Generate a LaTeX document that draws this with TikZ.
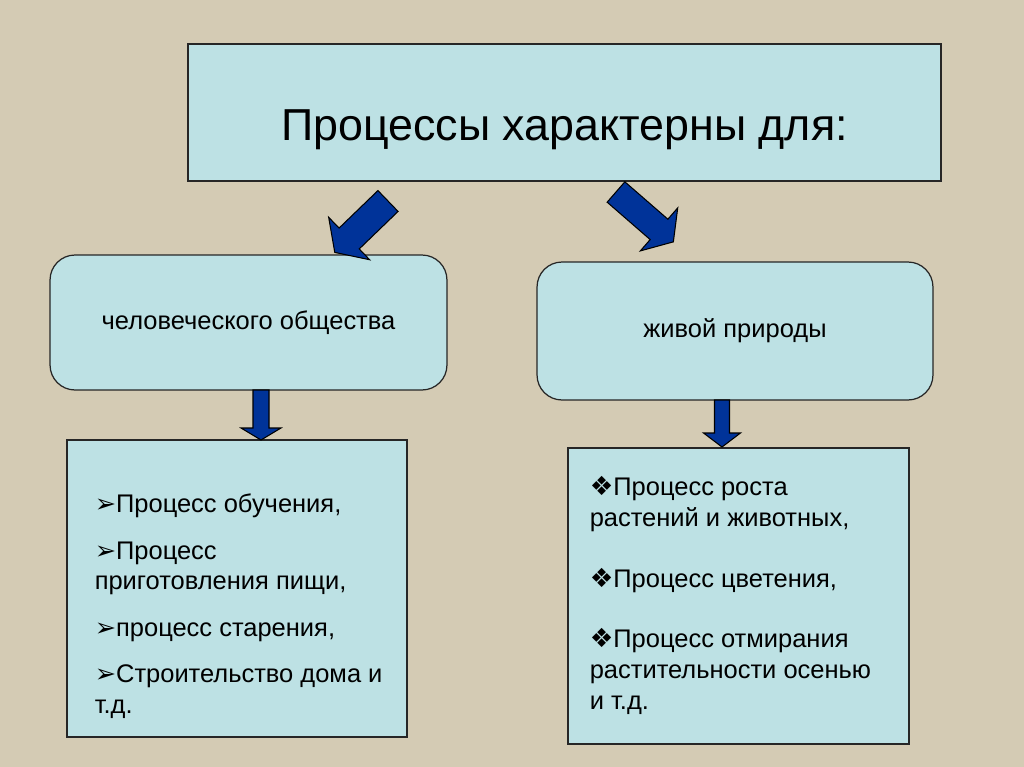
\documentclass[tikz,border=0pt]{standalone}
\usepackage{fontspec}
\setmainfont{Liberation Sans}
\newfontfamily\dingfont{DejaVu Sans}
\usetikzlibrary{positioning,calc}
\definecolor{paper}{RGB}{212,203,180}
\definecolor{boxfill}{RGB}{189,225,228}
\definecolor{arrowblue}{RGB}{0,51,153}
\newcommand{\arrbullet}{{\dingfont\fontsize{14.5}{17.5}\selectfont ➢}}
\newcommand{\diabullet}{{\dingfont\fontsize{15}{17.5}\selectfont ❖}}

\begin{document}
\begin{tikzpicture}[x=0.02cm, y=-0.02cm,
  every node/.style={font=\fontsize{14.5}{17.5}\selectfont},
  box/.style={draw=black!85, line width=0.7pt, fill=boxfill, inner sep=0pt},
  roundbox/.style={box, rounded corners=0.5cm},
  blockarrow/.style={draw=black, line width=0.6pt, fill=arrowblue},
  items/.style={anchor=north west, align=left, inner sep=0pt}]

\fill[paper] (0,0) rectangle (1024,767);

\node[box, minimum width=15.06cm, minimum height=2.74cm] (title) at (564.5,112.5) {};
\node[font=\fontsize{25.5}{30}\selectfont] (title-text) at ($(title)+(0,17)$) {Процессы характерны для:};

\node[roundbox, minimum width=7.94cm, minimum height=2.7cm] (society) at (248.5,322.5) {человеческого общества};
\node[roundbox, minimum width=7.92cm, minimum height=2.76cm] (nature) at (735,331) {живой природы};

\node[box, minimum width=6.8cm, minimum height=5.94cm] (society-list) at (237,588.5) {};
\node[box, minimum width=6.82cm, minimum height=5.92cm] (nature-list) at (738.5,596) {};

\node[items] (society-items) at ($(society-list.north west)+(28,54)$)
  {\arrbullet Процесс обучения,\\[9pt]
   \arrbullet Процесс\\
   приготовления пищи,\\[9pt]
   \arrbullet процесс старения,\\[9pt]
   \arrbullet Строительство дома и\\
   т.д.};

\node[items] (nature-items) at ($(nature-list.north west)+(22,29)$)
  {\diabullet Процесс роста\\
   растений и животных,\\[17pt]
   \diabullet Процесс цветения,\\[17pt]
   \diabullet Процесс отмирания\\
   растительности осенью\\
   и т.д.};

\foreach \px/\py/\ang/\len/\sw/\hw/\hl in
  {388/201/-136/74/29/59/20, 616/192/-41/76/27/57/19,
   261/390/-90/50/16/40/12, 722/400/-90/47/15/37/14}
  \draw[blockarrow, shift={(\px,\py)}, rotate=\ang]
    (0,{-\sw/2}) -- ({\len-\hl},{-\sw/2}) -- ({\len-\hl},{-\hw/2}) -- (\len,0)
    -- ({\len-\hl},{\hw/2}) -- ({\len-\hl},{\sw/2}) -- (0,{\sw/2}) -- cycle;

\end{tikzpicture}
\end{document}
